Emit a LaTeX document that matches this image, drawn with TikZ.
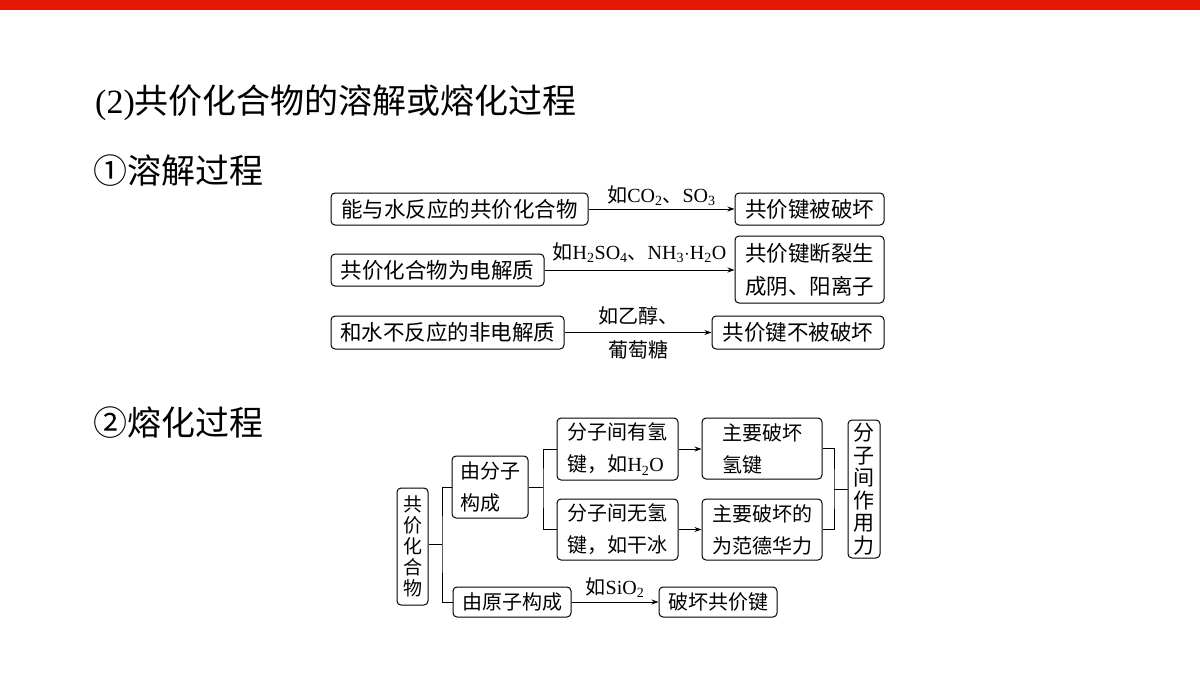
\documentclass[tikz,border=0pt]{standalone}
\usepackage{fontspec}
\setmainfont{Liberation Serif}
\newfontfamily\cjk{Noto Sans CJK SC}
\usetikzlibrary{arrows.meta}
\newcommand{\sbx}[1]{$_{\mathrm{#1}}$}
\begin{document}
\begin{tikzpicture}[x=1pt,y=-1pt,
  bx/.style={draw,line width=1pt,rounded corners=4pt,inner sep=0pt,align=center,font=\cjk\fontsize{20}{32}\selectfont},
  tb/.style={font=\cjk\fontsize{21.5}{33}\selectfont},
  ln/.style={line width=1pt},
  ar/.style={line width=1pt,-{Stealth[length=7pt,width=5pt]}},
  lb/.style={font=\cjk\fontsize{20}{22}\selectfont,inner sep=0pt}]
\useasboundingbox (0,0) rectangle (1200,675);
\fill[fill=red!80!orange!90!black] (0,0) rectangle (1200,10);
\node[anchor=west,inner sep=0pt,font=\cjk\fontsize{34}{38}\selectfont] (t1) at (95,103) {{\rmfamily (2)}共价化合物的溶解或熔化过程};
\node[anchor=west,inner sep=0pt,font=\cjk\fontsize{34}{38}\selectfont] (t2) at (93,171) {①溶解过程};
\node[anchor=west,inner sep=0pt,font=\cjk\fontsize{34}{38}\selectfont] (t3) at (93,423) {②熔化过程};
% top
\node[bx,tb,minimum width=257,minimum height=32] (a1) at (459.5,209) {能与水反应的共价化合物};
\node[bx,tb,minimum width=149,minimum height=32] (a2) at (809.5,209) {共价键被破坏};
\draw[ar] (a1) -- (a2) node[midway,above=3pt,lb] {如{\rmfamily CO\sbx{2}}、{\rmfamily SO\sbx{3}}};
\node[bx,tb,minimum width=213,minimum height=32] (b1) at (437.5,270) {共价化合物为电解质};
\node[bx,tb,minimum width=149,minimum height=67] (b2) at (809.5,269.5) {共价键断裂生\\成阴、阳离子};
\draw[ar] (b1) -- (b1-|b2.west) node[midway,above=7pt,lb] {如{\rmfamily H\sbx{2}SO\sbx{4}}、{\rmfamily NH\sbx{3}$\cdot$H\sbx{2}O}};
\node[bx,tb,minimum width=233,minimum height=33] (c1) at (447.5,332.5) {和水不反应的非电解质};
\node[bx,tb,minimum width=172,minimum height=33] (c2) at (798,332.5) {共价键不被破坏};
\draw[ar] (c1) -- (c2) node[midway,above=7pt,lb] {如乙醇、} node[midway,below=8pt,lb] {葡萄糖};
% bottom
\node[bx,minimum width=31,minimum height=117,font=\cjk\fontsize{19}{21}\selectfont] (d) at (412.5,546.5) {共\\价\\化\\合\\物};
\node[bx,minimum width=76,minimum height=62,align=left] (e1) at (490,487) {由分子\\构成};
\node[bx,minimum width=118,minimum height=30] (e2) at (512,602) {由原子构成};
\node[bx,minimum width=121,minimum height=62,align=left] (f1) at (617.5,449) {分子间有氢\\键，如{\rmfamily H\sbx{2}O}};
\node[bx,minimum width=121,minimum height=61] (f2) at (617.5,529.5) {分子间无氢\\键，如干冰};
\node[bx,minimum width=120,minimum height=61,align=left] (g1) at (762,448.5) {主要破坏\\氢键};
\node[bx,minimum width=120,minimum height=61] (g2) at (762,529.5) {主要破坏的\\为范德华力};
\node[bx,minimum width=32,minimum height=138,font=\cjk\fontsize{21}{22.5}\selectfont] (h) at (864,489) {分\\子\\间\\作\\用\\力};
\node[bx,minimum width=118,minimum height=30] (i) at (718,602) {破坏共价键};
\coordinate (j1) at (442,544);
\draw[ln] (d.east|-j1) -- (j1);
\draw[ln] (e1.west) -| (j1) |- (e2.west);
\coordinate (j2) at (543,487);
\draw[ln] (e1.east) -- (j2);
\draw[ln] (f1.west) -| (j2) |- (f2.west);
\draw[ar] (f1) -- (g1.west|-f1);
\draw[ar] (f2) -- (g2);
\coordinate (j3) at (834,489);
\draw[ln] (g1.east) -| (j3) |- (g2.east);
\draw[ln] (j3) -- (h.west);
\draw[ar] (e2) -- (i) node[midway,above=4pt,lb] {如{\rmfamily SiO\sbx{2}}};
\end{tikzpicture}
\end{document}
